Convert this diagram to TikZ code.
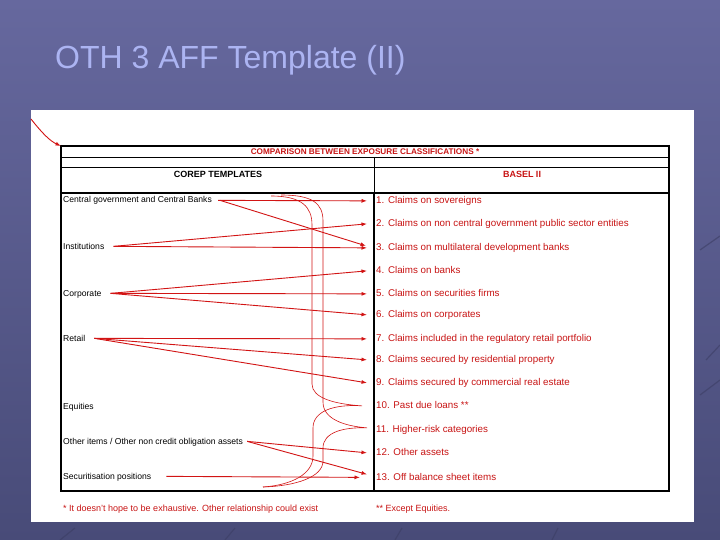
\documentclass[tikz,border=0pt]{standalone}
\usepackage{fontspec}
\setmainfont{Liberation Sans}
\usetikzlibrary{arrows.meta}
\definecolor{bgtop}{RGB}{102,104,158}
\definecolor{bgbot}{RGB}{72,75,120}
\definecolor{ttl}{RGB}{172,180,242}
\definecolor{lred}{RGB}{210,20,20}
\definecolor{tred}{RGB}{200,20,20}
\definecolor{deco}{RGB}{60,62,100}
\begin{document}
\begin{tikzpicture}[x=1pt,y=-1pt,
  lbl/.style={anchor=base west, inner sep=0pt, font=\fontsize{8.6}{10}\selectfont},
  rlbl/.style={anchor=base west, inner sep=0pt, text=tred, font=\fontsize{9.8}{11}\selectfont},
  fnote/.style={anchor=base west, inner sep=0pt, text=tred, font=\fontsize{9}{11}\selectfont},
  hdr/.style={anchor=base, inner sep=0pt, font=\fontsize{9}{11}\selectfont\bfseries},
  maparrow/.style={draw=lred, line width=0.9pt, -{Latex[length=5.5pt,width=4pt]}},
  bracecurve/.style={draw=lred, line width=0.6pt},
  heavyrule/.style={line width=2pt},
  lightrule/.style={line width=0.9pt},
  decoline/.style={draw=deco, line width=1.2pt, opacity=0.6}]
% background
\fill[top color=bgtop, bottom color=bgbot] (0,0) rectangle (720,540);
\useasboundingbox (0,0) rectangle (720,540);
% faint decoration
\draw[decoline] (700,250) -- (720,236);
\draw[decoline] (706,360) -- (720,345);
\draw[decoline] (700,395) -- (720,380);
\draw[decoline] (60,540) -- (75,528);
\draw[decoline] (225,540) -- (235,528);
\draw[decoline] (395,540) -- (402,528);
\draw[decoline] (552,540) -- (558,528);
% title
\node[anchor=base west, inner sep=0pt, text=ttl, font=\fontsize{32}{36}\selectfont] (title) at (55,69) {OTH 3 AFF Template (II)};
% white panel
\fill[white] (31,110) rectangle (694,522);
% table
\coordinate (tblNW) at (61,146);
\draw[heavyrule] (61,146) -- (669,146);
\draw[lightrule] (61,157) -- (669,157);
\draw[lightrule] (61,167) -- (669,167);
\draw[heavyrule] (61,193) -- (669,193);
\draw[heavyrule] (60,491) -- (670,491);
\draw[line width=1.6pt] (61,145) -- (61,492);
\draw[line width=1.6pt] (669,145) -- (669,492);
\draw[lightrule] (374,157) -- (374,193);
\draw[heavyrule] (374,193) -- (374,491);
% headers
\node[hdr, text=tred, font=\fontsize{8.2}{10}\selectfont\bfseries] (caption) at (365,155) {COMPARISON BETWEEN EXPOSURE CLASSIFICATIONS *};
\node[hdr] (corephdr) at (218,177.5) {COREP TEMPLATES};
\node[hdr, text=tred] (baselhdr) at (522,177.5) {BASEL II};
% left labels
\node[lbl] (cg) at (63,203) {Central government and Central Banks};
\node[lbl] (inst) at (63,249) {Institutions};
\node[lbl] (corp) at (63,296) {Corporate};
\node[lbl] (retail) at (63,341) {Retail};
\node[lbl] (equit) at (63,409) {Equities};
\node[lbl] (other) at (63,444) {Other items / Other non credit obligation assets};
\node[lbl] (secur) at (63,479) {Securitisation positions};
% right labels
\node[rlbl] (r1) at (376,203.5) {1. Claims on sovereigns};
\node[rlbl] (r2) at (376,226.5) {2. Claims on non central government public sector entities};
\node[rlbl] (r3) at (376,250.5) {3. Claims on multilateral development banks};
\node[rlbl] (r4) at (376,273.5) {4. Claims on banks};
\node[rlbl] (r5) at (376,296.5) {5. Claims on securities firms};
\node[rlbl] (r6) at (376,317.5) {6. Claims on corporates};
\node[rlbl] (r7) at (376,341.5) {7. Claims included in the regulatory retail portfolio};
\node[rlbl] (r8) at (376,362.5) {8. Claims secured by residential property};
\node[rlbl] (r9) at (376,385.5) {9. Claims secured by commercial real estate};
\node[rlbl] (r10) at (376,408.5) {10. Past due loans **};
\node[rlbl] (r11) at (376,432.5) {11. Higher-risk categories};
\node[rlbl] (r12) at (376,455.5) {12. Other assets};
\node[rlbl] (r13) at (376,480) {13. Off balance sheet items};
% footnotes
\node[fnote] (fn1) at (63,511) {* It doesn't hope to be exhaustive. Other relationship could exist};
\node[fnote] (fn2) at (376,511) {** Except Equities.};
% corner arrow
\coordinate (cornerstart) at (31,119);
\draw[maparrow] (cornerstart) .. controls (42,133) and (50,141) .. (tblNW);
% mapping arrows
\draw[maparrow] ([xshift=6pt]cg.mid east) -- ([xshift=-9pt]r1.mid west);
\draw[maparrow] ([xshift=8pt]cg.mid east) -- ([xshift=-10pt,yshift=2pt]r3.mid west);
\draw[maparrow] ([xshift=9pt]inst.mid east) -- ([xshift=-9pt]r2.mid west);
\draw[maparrow] ([xshift=9pt]inst.mid east) -- ([xshift=-9pt]r3.mid west);
\draw[maparrow] ([xshift=9pt]corp.mid east) -- ([xshift=-9pt]r4.mid west);
\draw[maparrow] ([xshift=9pt]corp.mid east) -- ([xshift=-9pt]r5.mid west);
\draw[maparrow] ([xshift=9pt]corp.mid east) -- ([xshift=-9pt]r6.mid west);
\draw[maparrow] ([xshift=9pt]retail.mid east) -- ([xshift=-9pt]r7.mid west);
\draw[maparrow] ([xshift=9pt]retail.mid east) -- ([xshift=-9pt]r8.mid west);
\draw[maparrow] ([xshift=9pt]retail.mid east) -- ([xshift=-9pt]r9.mid west);
\draw[maparrow] ([xshift=4pt]other.mid east) -- ([xshift=-9pt]r12.mid west);
\draw[maparrow] ([xshift=4pt]other.mid east) -- ([xshift=-9pt,yshift=3pt]r13.mid west);
\draw[maparrow] ([xshift=15pt]secur.mid east) -- ([xshift=-16pt]r13.mid west);
% brace-like curves to 10 and 11
\coordinate (bracetopA) at (271,196);
\coordinate (bracetopB) at (281,195);
\coordinate (bracebot) at (263,487);
\coordinate (tip10) at ([xshift=-14pt]r10.mid west);
\coordinate (tip11) at ([xshift=-9pt,yshift=2pt]r11.mid west);
\draw[bracecurve] (bracetopA) .. controls (302,196) and (312,207) .. (312,225)
  -- (312,384) .. controls (312,398) and (334,404) .. (tip10)
  .. controls (334,404) and (313,411) .. (313,428)
  -- (313,456) .. controls (313,474) and (292,485) .. (bracebot);
\draw[bracecurve] (bracetopB) .. controls (312,195) and (323,203) .. (323,221)
  -- (323,402) .. controls (323,419) and (344,426) .. (tip11)
  .. controls (344,427) and (323,432) .. (323,448)
  -- (323,461) .. controls (323,477) and (296,486) .. (bracebot);
\end{tikzpicture}
\end{document}
